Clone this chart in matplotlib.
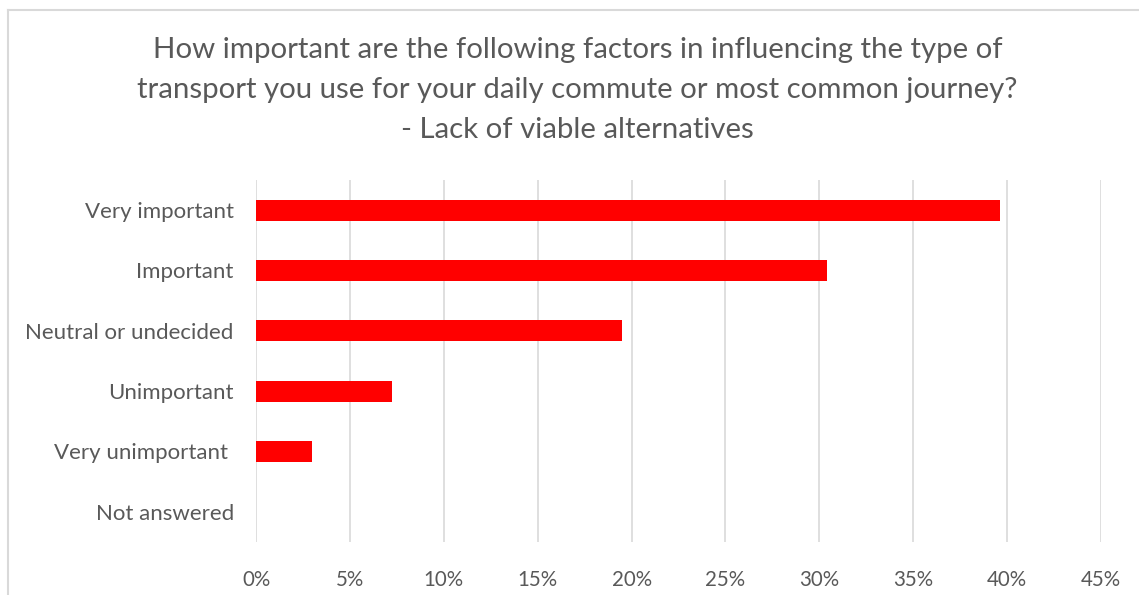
import matplotlib.pyplot as plt
from matplotlib.lines import Line2D
from matplotlib.ticker import PercentFormatter

# survey answers, top to bottom
categories = ['Very important', 'Important', 'Neutral or undecided',
              'Unimportant', 'Very unimportant ', 'Not answered']
shares = [39.6, 30.4, 19.5, 7.25, 3.0, 0.0]

title = ('How important are the following factors in influencing the type of\n'
         'transport you use for your daily commute or most common journey?\n'
         '- Lack of viable alternatives')

grey = '#595959'
grid = '#d9d9d9'

plt.rcParams['font.family'] = ['Lato', 'DejaVu Sans']

fig = plt.figure(figsize=(11.39, 5.95), dpi=100)
ax = fig.add_axes([0.2248, 0.0891, 0.7418, 0.6084])

y = list(range(len(categories)))
ax.barh(y, shares, height=0.35, color='#ff0000', zorder=3)

ax.set_ylim(len(categories) - 0.5, -0.5)
ax.set_yticks(y)
ax.set_yticklabels(categories)
ax.set_xlim(0, 45)
ax.set_xticks(range(0, 50, 5))
ax.xaxis.set_major_formatter(PercentFormatter(decimals=0))

ax.grid(axis='x', color=grid, linewidth=1.2, zorder=0)
for s in ax.spines.values():
    s.set_visible(False)
ax.tick_params(axis='both', length=0, labelcolor=grey)
ax.tick_params(axis='y', pad=16, labelsize=16)
ax.tick_params(axis='x', pad=20, labelsize=14.8)

fig.text(0.507, 0.937, title, ha='center', va='top', fontsize=21.2,
         color=grey, linespacing=1.65)

# chart frame
fx, fy = 8 / 1139, 1 - 10 / 595
fig.add_artist(Line2D([fx, fx], [0, fy], color=grid, linewidth=1.5))
fig.add_artist(Line2D([fx, 1], [fy, fy], color=grid, linewidth=1.5))

fig.savefig('out.png', dpi=100, facecolor='white')
